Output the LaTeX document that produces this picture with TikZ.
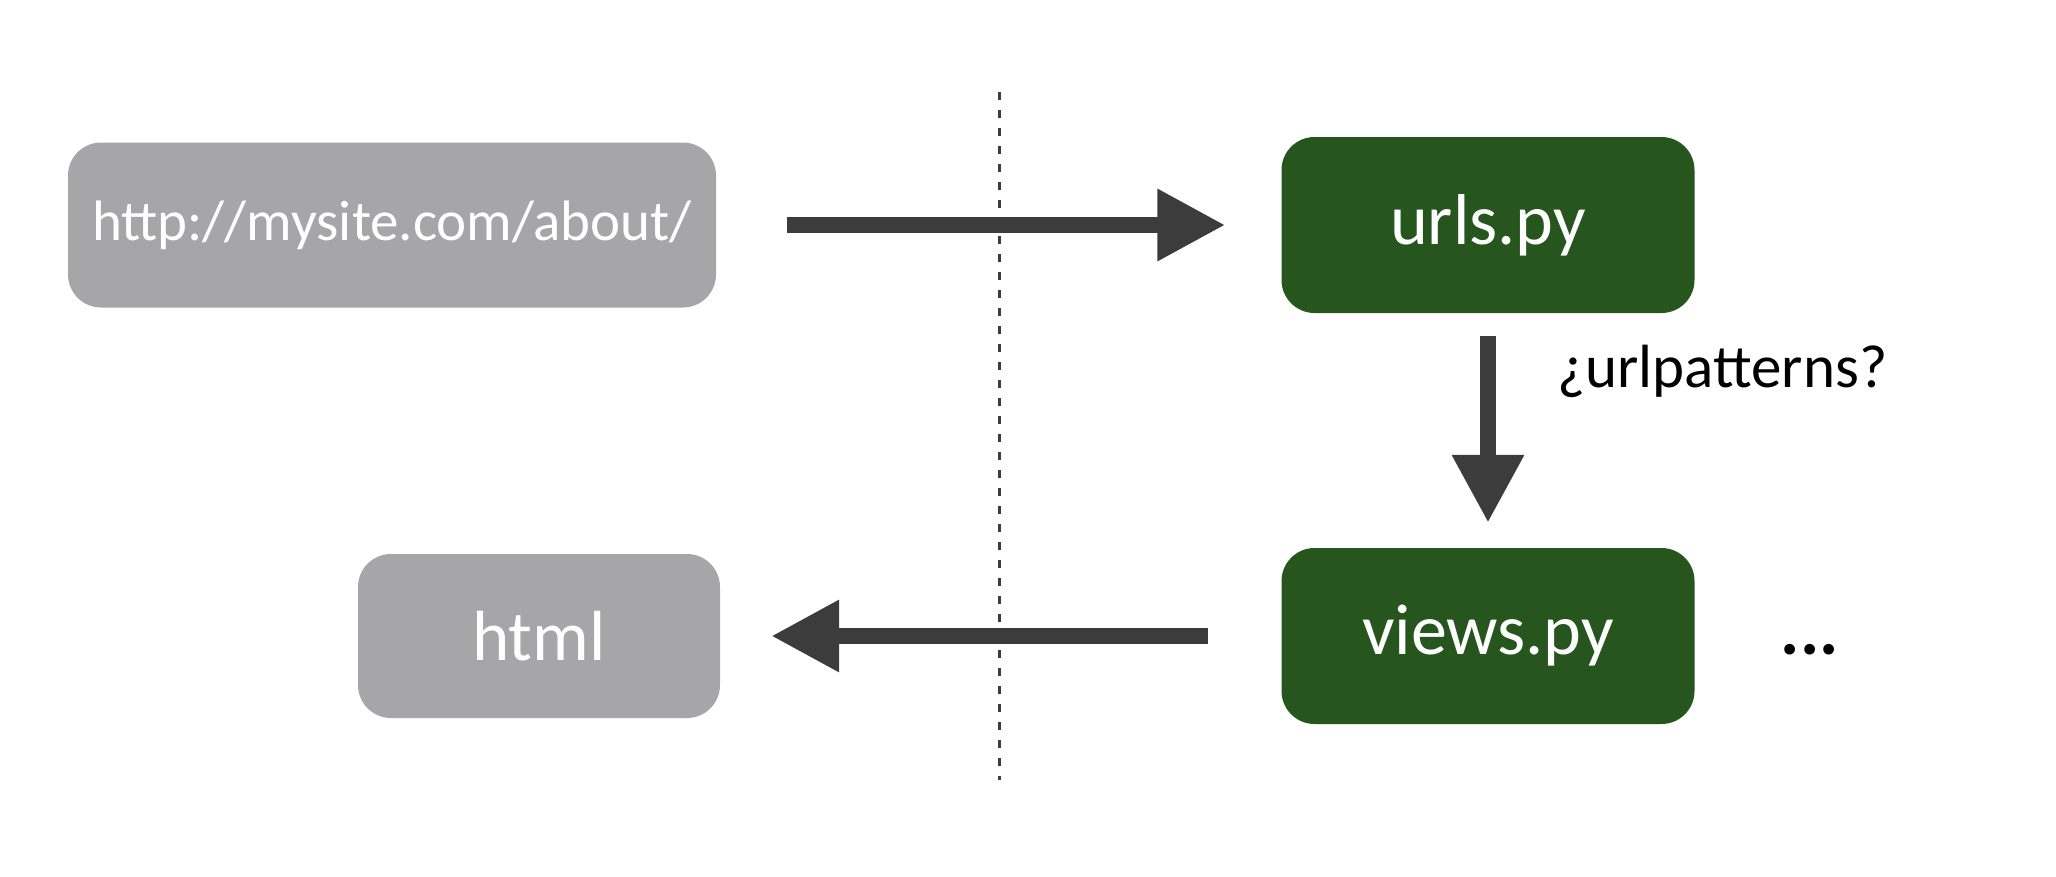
\documentclass[tikz,border=0pt]{standalone}
\usepackage{fontspec}
\setmainfont{Carlito}
\usetikzlibrary{positioning, arrows.meta}
\definecolor{boxgray}{RGB}{166,166,168}
\definecolor{boxgreen}{RGB}{38,86,30}
\definecolor{arrowgray}{RGB}{60,60,60}
\tikzstyle{graybox}=[fill=boxgray,rectangle,rounded corners=33pt,inner sep=0pt,text=white]
\tikzstyle{greenbox}=[fill=boxgreen,rectangle,rounded corners=33pt,inner sep=0pt,text=white,minimum width=413pt,minimum height=176pt,font=\fontsize{72}{80}\selectfont]
\tikzstyle{flow}=[draw=arrowgray,line width=16pt,-{Triangle[length=68pt,width=68pt]}]

\begin{document}
\begin{tikzpicture}[x=1pt,y=-1pt]
            \useasboundingbox (0,0) rectangle (2056,876);
            \node[graybox, minimum width=648pt, minimum height=165pt, font=\fontsize{57}{64}\selectfont] (url) at (392,225) {http://mysite.com/about/};
            \node[greenbox] (urls) at (1488,225) {urls.py};
            \node[greenbox] (views) at (1488,636) {views.py};
            \node[graybox, minimum width=362pt, minimum height=164pt, font=\fontsize{71}{78}\selectfont] (html) at (539,636) {html};
            \node[anchor=base west, xshift=86pt, inner sep=0pt, font=\bfseries\fontsize{72}{76}\selectfont] (more) at (views.base east) {...};
            \coordinate (top) at (999,92);
            \coordinate (bottom) at (999,780);
            \draw[arrowgray, line width=3pt, dash pattern=on 8pt off 10pt] (top) -- (bottom);
            \draw[flow, shorten <=71pt, shorten >=56pt] (url) -- (urls);
            \draw[flow, shorten <=23pt, shorten >=25pt] (urls) -- node[pos=0.25, right=58pt, font=\fontsize{61}{66}\selectfont] (pat) {¿urlpatterns?} (views);
            \draw[flow, shorten <=73pt, shorten >=51pt] (views) -- (html);
        \end{tikzpicture}
\end{document}
